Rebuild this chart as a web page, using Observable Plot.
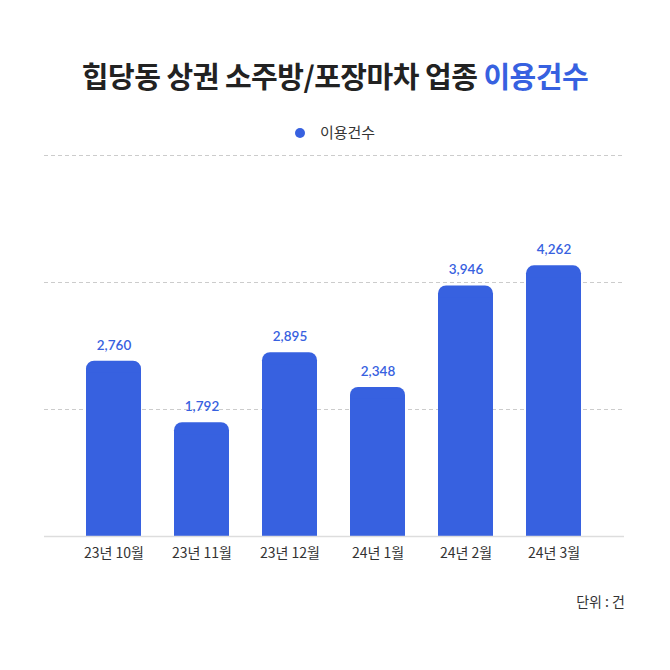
<!DOCTYPE html>
<html><head><meta charset="utf-8">
<script src="https://cdn.jsdelivr.net/npm/d3@7"></script>
<script src="https://cdn.jsdelivr.net/npm/@observablehq/plot@0.6"></script>
<style>
body{margin:0;background:#fff;font-family:Lato,"Noto Sans CJK KR",sans-serif;}
#wrap{width:670px;height:670px;position:relative;overflow:hidden;}
#title{position:absolute;top:54px;left:0;width:670px;text-align:center;font-family:"Noto Sans CJK KR",sans-serif;font-weight:700;font-size:29px;color:#222;letter-spacing:-0.5px;line-height:42px;}
#title span{color:#3761e0;}
#legend{position:absolute;top:121px;left:0;width:670px;text-align:center;font-family:"Noto Sans CJK KR",sans-serif;font-size:15px;color:#333;line-height:22px;}
#legend i{display:inline-block;width:10px;height:10px;border-radius:50%;background:#3761e0;margin-right:15px;vertical-align:0px;}
#chart{position:absolute;top:145px;left:0;}
#unit{position:absolute;top:591px;right:45px;font-family:"Noto Sans CJK KR",sans-serif;font-size:14px;color:#333;}
</style></head>
<body><div id="wrap">
<div id="title">힙당동 상권 소주방/포장마차 업종 <span>이용건수</span></div>
<div id="legend"><i></i>이용건수</div>
<div id="chart"></div>
<div id="unit">단위 : 건</div>
</div>
<script>
const categories = ["23년 10월","23년 11월","23년 12월","24년 1월","24년 2월","24년 3월"];
const values = [2760, 1792, 2895, 2348, 3946, 4262];
const gridTicks = [2000, 4000, 6000];
const data = categories.map((c,i)=>({month:c, value:values[i]}));
const blue = "#3761e0";
const chart = Plot.plot({
  width: 670, height: 470,
  marginLeft: 44, marginRight: 46, marginTop: 10, marginBottom: 79,
  x: {domain: categories, paddingInner: 0.371, paddingOuter: 0.444, label: null},
  y: {domain: [0, 6000], axis: null},
  style: {fontFamily: 'Lato, "Noto Sans CJK KR", sans-serif', background: "#fff"},
  marks: [
    Plot.ruleY(gridTicks, {stroke: "#cccccc", strokeDasharray: "4,3", strokeWidth: 1}),
    Plot.barY(data, {x: "month", y: "value", fill: blue, rx: 8}),
    Plot.barY(data, {x: "month", y: "value", fill: blue, insetTop: 12}),
    Plot.ruleY([0], {stroke: "#dddddd", strokeWidth: 1.5}),
    Plot.text(data, {x: "month", y: "value", text: d => d3.format(",")(d.value), dy: -16, fill: blue, fontSize: 13.5, fontWeight: 600}),
    Plot.axisX({tickSize: 0, tickPadding: 12, fontSize: 14, fill: "#333", label: null, fontFamily: '"Noto Sans CJK KR", sans-serif'})
  ]
});
document.getElementById("chart").appendChild(chart);
</script>
</body></html>
